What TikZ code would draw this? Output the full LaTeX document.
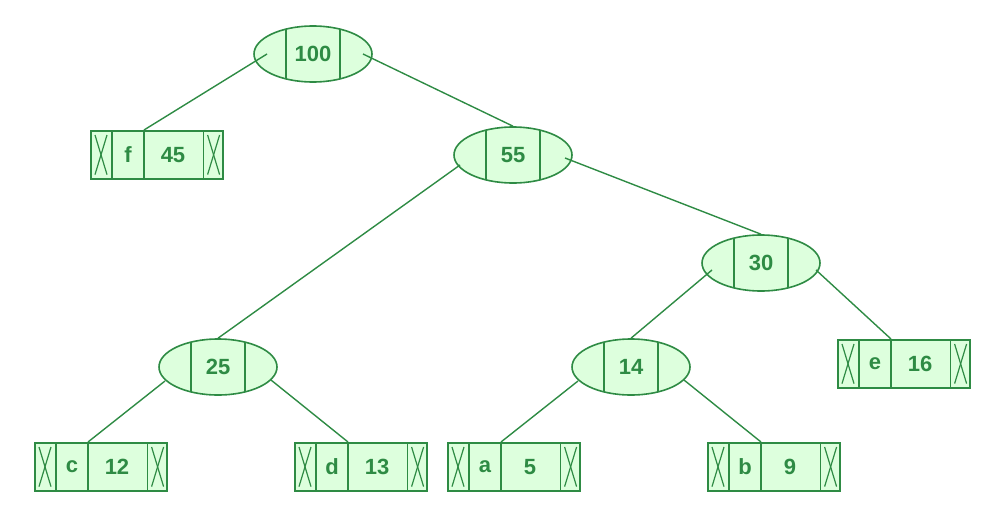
\documentclass[tikz,border=0pt]{standalone}
\usepackage{fontspec}
\setmainfont{Liberation Sans}
\usetikzlibrary{shapes.geometric,calc}
\definecolor{gstroke}{HTML}{2E8B44}
\definecolor{gfill}{HTML}{DDFFDD}
\tikzset{
  tn/.style={ellipse,draw=gstroke,fill=gfill,line width=1.6pt,minimum width=118pt,minimum height=56pt,inner sep=0pt,text=gstroke,font=\bfseries\fontsize{22}{22}\selectfont},
  lf/.style={rectangle,draw=gstroke,fill=gfill,line width=1.6pt,minimum width=132pt,minimum height=48pt,inner sep=0pt},
  lt/.style={text=gstroke,font=\bfseries\fontsize{22}{22}\selectfont,inner sep=0pt},
  ln/.style={draw=gstroke,line width=1.6pt},
  ed/.style={draw=gstroke,line width=1.4pt}
}
\newcommand{\tnode}[3]{%
  \node[tn] (#1) at (#2) {#3};
  \draw[ln] ($(#1)+(-27,-25)$) -- ($(#1)+(-27,25)$);
  \draw[ln] ($(#1)+(27,-25)$) -- ($(#1)+(27,25)$);
}
\newcommand{\lnode}[4]{%
  \node[lf,anchor=north west] (#1) at (#2) {};
  \draw[ln] ($(#1.north west)+(22,0)$) -- ($(#1.south west)+(22,0)$);
  \draw[ln] ($(#1.north west)+(54,0)$) -- ($(#1.south west)+(54,0)$);
  \draw[ln] ($(#1.north east)+(-20,0)$) -- ($(#1.south east)+(-20,0)$);
  \draw[ln,line width=1.2pt] ($(#1.north west)+(5,5)$) -- ($(#1.south west)+(17,-5)$);
  \draw[ln,line width=1.2pt] ($(#1.north west)+(17,5)$) -- ($(#1.south west)+(5,-5)$);
  \draw[ln,line width=1.2pt] ($(#1.north east)+(-16,5)$) -- ($(#1.south east)+(-4,-5)$);
  \draw[ln,line width=1.2pt] ($(#1.north east)+(-4,5)$) -- ($(#1.south east)+(-16,-5)$);
  \node[lt] (#1l) at ($(#1.west)+(38,0)$) {#3};
  \node[lt] (#1n) at ($(#1.west)+(83,0)$) {#4};
}
\begin{document}
\begin{tikzpicture}[x=1pt,y=-1pt]
\useasboundingbox (0,0) rectangle (1000,525);
\tnode{n100}{313,54}{100}
\tnode{n55}{513,155}{55}
\tnode{n30}{761,263}{30}
\tnode{n25}{218,367}{25}
\tnode{n14}{631,367}{14}
\lnode{f}{90,130}{f}{45}
\lnode{e}{837,339}{e}{16}
\lnode{c}{34,442}{c}{12}
\lnode{d}{294,442}{d}{13}
\lnode{a}{447,442}{a}{5}
\lnode{b}{707,442}{b}{9}
\draw[ed] ($(n100)+(-46,0)$) -- ($(f.north west)+(54,0)$);
\draw[ed] ($(n100)+(50,0)$) -- (n55.north);
\draw[ed] ($(n55)+(-53,10)$) -- (n25.north);
\draw[ed] ($(n55)+(52,3)$) -- (n30.north);
\draw[ed] ($(n30)+(-49,7)$) -- (n14.north);
\draw[ed] ($(n30)+(55,7)$) -- ($(e.north west)+(54,0)$);
\draw[ed] ($(n25)+(-53,14)$) -- ($(c.north west)+(54,0)$);
\draw[ed] ($(n25)+(53,13)$) -- ($(d.north west)+(54,0)$);
\draw[ed] ($(n14)+(-53,14)$) -- ($(a.north west)+(54,0)$);
\draw[ed] ($(n14)+(53,13)$) -- ($(b.north west)+(54,0)$);
\end{tikzpicture}
\end{document}
